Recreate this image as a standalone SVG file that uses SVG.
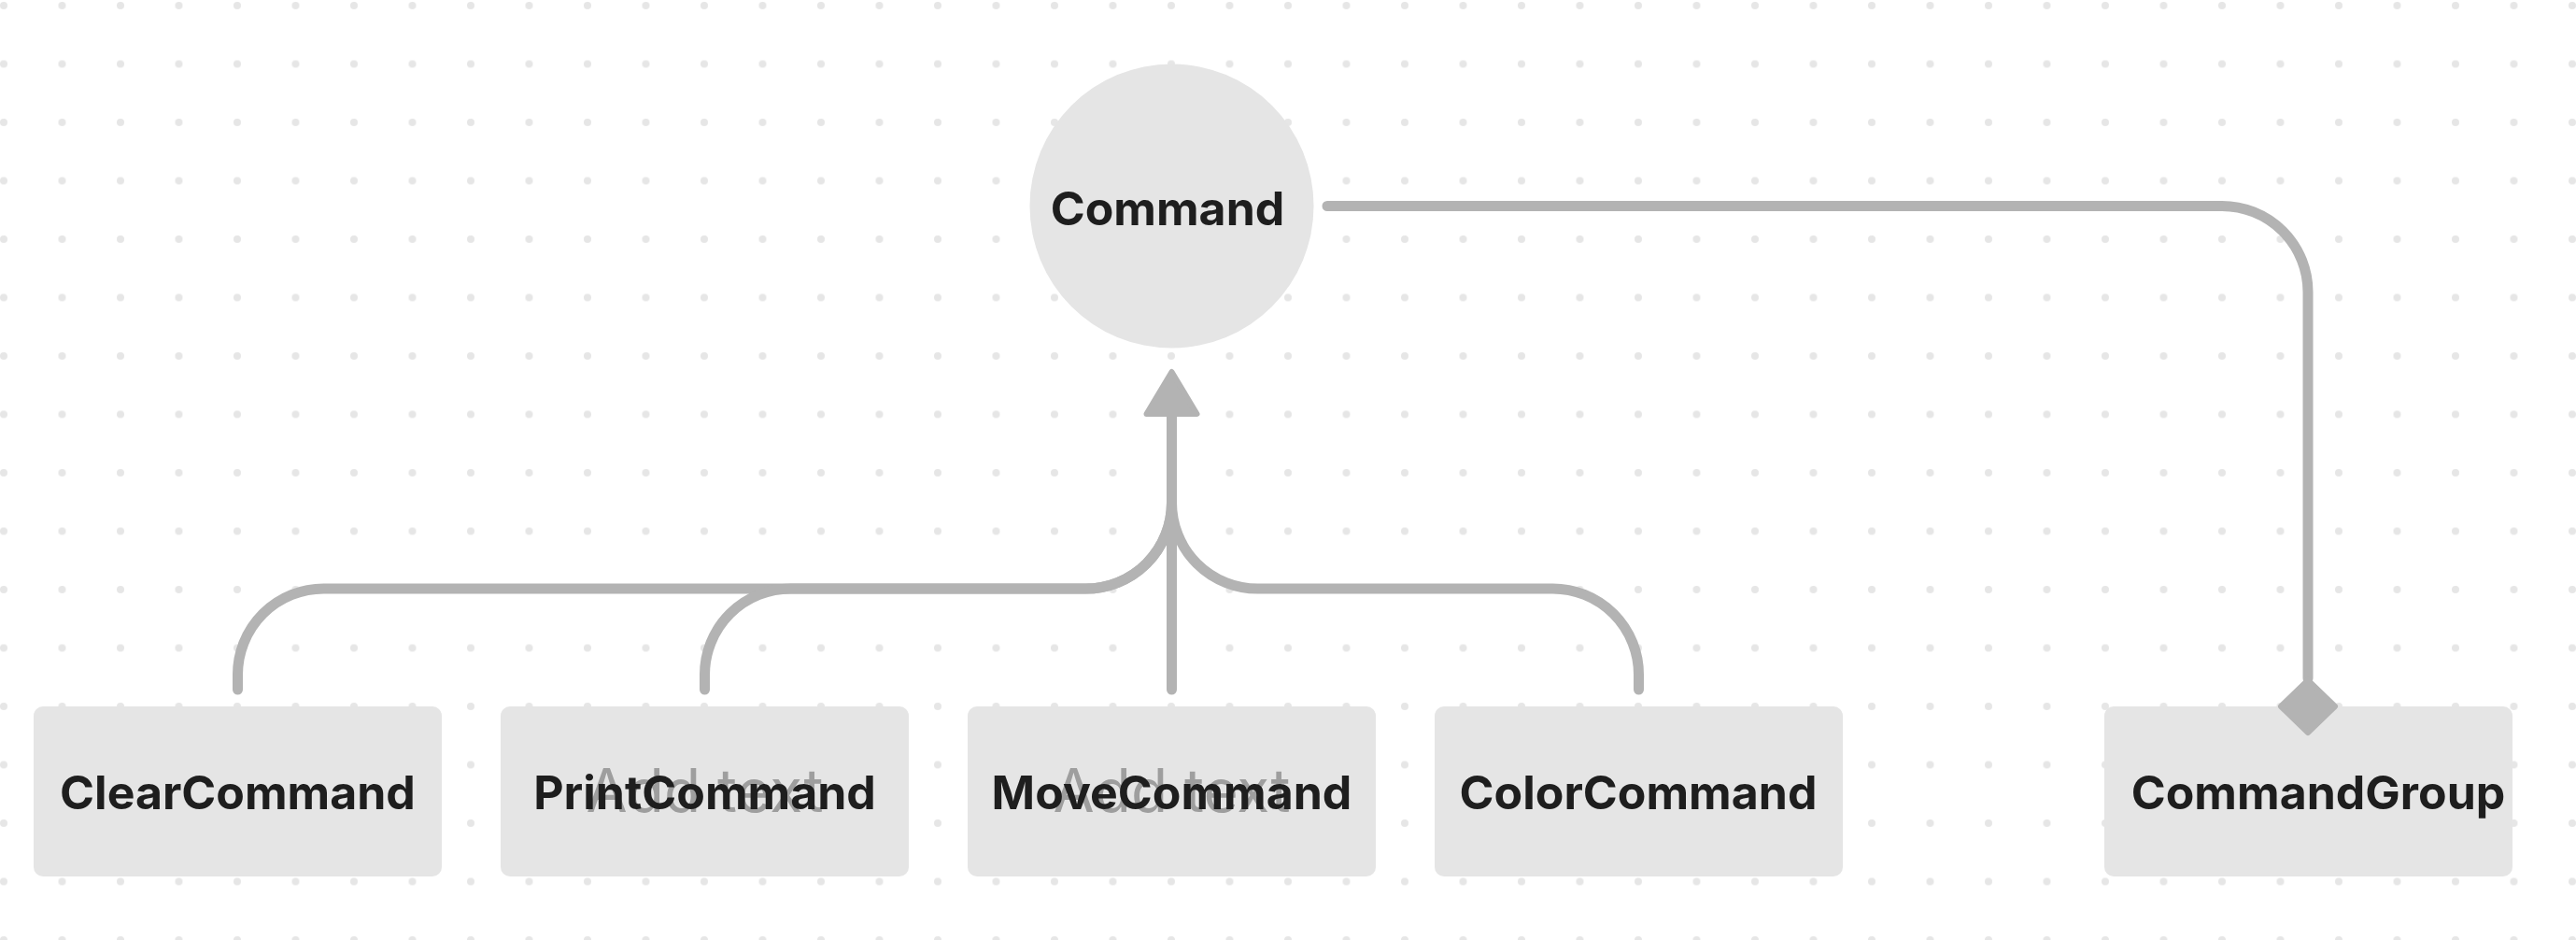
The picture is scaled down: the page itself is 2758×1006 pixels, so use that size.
<svg xmlns="http://www.w3.org/2000/svg" width="2758" height="1006" viewBox="0 0 2758 1006">
<style>
.node{fill:#e5e5e5}
.lbl{font-family:Inter,"Liberation Sans",sans-serif;font-weight:700;font-size:50px;fill:#1e1e1e;text-anchor:middle}
.ph{font-family:Inter,"Liberation Sans",sans-serif;font-weight:400;font-size:64px;fill:#9e9e9e;text-anchor:middle}
.conn{fill:none;stroke:#b3b3b3;stroke-width:11;stroke-linecap:round;stroke-linejoin:round}
</style>
<defs>
<pattern id="dots" patternUnits="userSpaceOnUse" width="62.5" height="62.5">
<circle cx="4" cy="6" r="4" fill="#e6e6e6"/>
</pattern>
<marker id="tri" markerUnits="userSpaceOnUse" markerWidth="80" markerHeight="80" refX="0" refY="0" orient="auto" overflow="visible">
<path d="M2 -27 L47 0 L2 27 Z" fill="#b3b3b3" stroke="#b3b3b3" stroke-width="6" stroke-linejoin="round"/>
</marker>
<marker id="dia" markerUnits="userSpaceOnUse" markerWidth="80" markerHeight="80" refX="0" refY="0" orient="auto" overflow="visible">
<path d="M2 0 L30 -29 L58 0 L30 29 Z" fill="#b3b3b3" stroke="#b3b3b3" stroke-width="6" stroke-linejoin="round"/>
</marker>
</defs>
<rect width="2758" height="1006" fill="#ffffff"/>
<rect width="2758" height="1006" fill="url(#dots)"/>
<g id="nodes">
<g id="command">
<circle class="node" cx="1254.5" cy="220.5" r="152"/>
<text class="lbl" x="1250" y="241">Command</text>
</g>
<g id="clearcommand">
<rect class="node" x="36" y="756" width="437" height="182" rx="10"/>
<text class="lbl" x="254.5" y="866">ClearCommand</text>
</g>
<g id="printcommand">
<rect class="node" x="536" y="756" width="437" height="182" rx="10"/>
<text class="ph" x="754.5" y="869">Add text</text>
<text class="lbl" x="754.5" y="866">PrintCommand</text>
</g>
<g id="movecommand">
<rect class="node" x="1036" y="756" width="437" height="182" rx="10"/>
<text class="ph" x="1254.5" y="869">Add text</text>
<text class="lbl" x="1254.5" y="866">MoveCommand</text>
</g>
<g id="colorcommand">
<rect class="node" x="1536" y="756" width="437" height="182" rx="10"/>
<text class="lbl" x="1754" y="866">ColorCommand</text>
</g>
<g id="commandgroup">
<rect class="node" x="2253" y="756" width="437" height="182" rx="10"/>
<text class="lbl" x="2482" y="866">CommandGroup</text>
</g>
</g>
<g id="connectors">
<path class="conn" d="M254.5 738 V722 A92 92 0 0 1 346.5 630 H1162.5 A92 92 0 0 0 1254.5 538 V445"/>
<path class="conn" d="M754.5 738 V722 A92 92 0 0 1 846.5 630 H1162.5 A92 92 0 0 0 1254.5 538 V445"/>
<path class="conn" d="M1754.5 738 V722 A92 92 0 0 0 1662.5 630 H1346.5 A92 92 0 0 1 1254.5 538 V445"/>
<path class="conn" d="M1254.5 738 V445" marker-end="url(#tri)"/>
<path class="conn" d="M1421 220.5 H2379 A92 92 0 0 1 2471 312.5 V726" marker-end="url(#dia)"/>
</g>
</svg>
